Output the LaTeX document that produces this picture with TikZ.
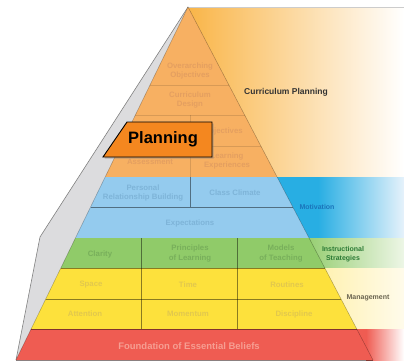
\documentclass[tikz,border=0pt]{standalone}
\usepackage{fontspec}
\setmainfont{Liberation Sans}
\usetikzlibrary{calc,shadows}

\definecolor{orangecell}{HTML}{F7B062}
\definecolor{orangetext}{HTML}{E49F60}
\definecolor{bluecell}{HTML}{94CBEE}
\definecolor{bluetext}{HTML}{7EB4D8}
\definecolor{greencell}{HTML}{90CB69}
\definecolor{greentext}{HTML}{78AF5B}
\definecolor{yellowcell}{HTML}{FDE13C}
\definecolor{yellowtext}{HTML}{E2C84D}
\definecolor{redcell}{HTML}{EF5C52}
\definecolor{redtext}{HTML}{F69E92}
\definecolor{sideface}{HTML}{DCDCDE}
\definecolor{planorange}{HTML}{F4871F}
\definecolor{bandorange}{HTML}{F9B548}
\definecolor{bandblue}{HTML}{28AEE3}
\definecolor{bandbluepale}{HTML}{E6F2FB}
\definecolor{bandgreenpale}{HTML}{EDF6E6}
\definecolor{bandyellow}{HTML}{FFF1B0}
\definecolor{bandyellowpale}{HTML}{FFFBEB}
\definecolor{motivtext}{HTML}{1B74BA}
\definecolor{instrtext}{HTML}{2B7A35}
\definecolor{managetext}{HTML}{6A6450}

\begin{document}
\begin{tikzpicture}[x=1pt,y=-1pt,
    cell/.style={font=\fontsize{7.8}{9.5}\selectfont\bfseries, align=center, inner sep=0pt},
    bandlabel/.style={font=\fontsize{7}{8.5}\selectfont\bfseries, align=center, inner sep=0pt},
    gridline/.style={draw=black, draw opacity=0.45, line width=0.6pt},
    oline/.style={draw=black, draw opacity=0.12, line width=0.6pt},
    planbox/.style={fill=planorange, draw=black, line width=0.9pt,
      drop shadow={shadow xshift=1.5pt, shadow yshift=-1.5pt, opacity=0.45}}]
  \useasboundingbox (0,0) rectangle (404,362);
  \coordinate (A) at (188,7);
  \coordinate (BL) at (16,360);
  \coordinate (BR) at (373,360);
  \coordinate (K) at (40,237);
  \foreach \y in {85,115,146,177,207,238,268,299,329,360} {
    \coordinate (L\y) at ($(A)!{(\y-7)/353}!(BL)$);
    \coordinate (R\y) at ($(A)!{(\y-7)/353}!(BR)$);
  }

  % bands behind the pyramid
  \shade[left color=bandorange, right color=white] (188,7) rectangle (404,177);
  \fill[bandblue] (270,177) rectangle (318,238);
  \shade[left color=bandblue, right color=bandbluepale] (318,177) rectangle (404,238);
  \shade[left color=greencell, right color=bandgreenpale] (300,238) rectangle (404,268);
  \shade[left color=bandyellow, right color=bandyellowpale] (320,268) rectangle (404,329);
  \fill[redcell] (355,329) rectangle (366,360);
  \shade[left color=redcell, right color=white] (366,329) rectangle (404,360);
  \draw[black!20, line width=0.6pt] (A) -- (404,7);

  % side face
  \fill[sideface] (A) -- (K) -- (BL) -- cycle;
  \draw[black!50, line width=0.6pt] (A) -- (K) -- (BL);

  % pyramid rows
  \fill[orangecell] (A) -- (R177) -- (L177) -- cycle;
  \fill[bluecell] (L177) -- (R177) -- (R238) -- (L238) -- cycle;
  \fill[greencell] (L238) -- (R238) -- (R268) -- (L268) -- cycle;
  \fill[yellowcell] (L268) -- (R268) -- (R329) -- (L329) -- cycle;
  \fill[redcell] (L329) -- (R329) -- (R360) -- (L360) -- cycle;

  % grid lines
  \foreach \y in {85,115,146} \draw[oline] (L\y) -- (R\y);
  \draw[oline] (190,115) -- (190,177);
  \foreach \y in {207,268,299,329,360} \draw[gridline] (L\y) -- (R\y);
  \draw[gridline] (190,177) -- (190,207);
  \draw[gridline] (141,238) -- (141,329);
  \draw[gridline] (237,238) -- (237,329);
  \draw[black, draw opacity=0.3, line width=0.5pt] (BL) -- (A) -- (BR);

  % cell texts
  \node[cell, orangetext] (overarch) at (190,71) {Overarching\\Objectives};
  \node[cell, orangetext] (currdesign) at (190,100) {Curriculum\\Design};
  \node[cell, orangetext] (objectives) at (223,131) {Objectives};
  \node[cell, orangetext] (assess) at (150,162) {Assessment};
  \node[cell, orangetext] (learnexp) at (227,161) {Learning\\Experiences};
  \node[cell, bluetext] (relation) at (143,193) {Personal\\Relationship Building};
  \node[cell, bluetext] (climate) at (235,193) {Class Climate};
  \node[cell, bluetext] (expect) at (190,223) {Expectations};
  \node[cell, greentext] (clarity) at (100,254) {Clarity};
  \node[cell, greentext] (principles) at (190,253.5) {Principles\\of Learning};
  \node[cell, greentext] (models) at (281,253.5) {Models\\of Teaching};
  \node[cell, yellowtext] (space) at (91,285) {Space};
  \node[cell, yellowtext] (time) at (188,285) {Time};
  \node[cell, yellowtext] (routines) at (287,285) {Routines};
  \node[cell, yellowtext] (attention) at (85,314) {Attention};
  \node[cell, yellowtext] (momentum) at (188,314) {Momentum};
  \node[cell, yellowtext] (discipline) at (294,314) {Discipline};
  \node[cell, redtext, font=\fontsize{9.5}{11}\selectfont\bfseries] (beliefs) at (189,346) {Foundation of Essential Beliefs};

  % band labels
  \node[bandlabel, black!80, font=\fontsize{8.5}{10}\selectfont\bfseries] (currplan) at (286,92) {Curriculum Planning};
  \node[bandlabel, motivtext] (motiv) at (317,207) {Motivation};
  \node[bandlabel, instrtext] (instr) at (343,254) {Instructional\\Strategies};
  \node[bandlabel, managetext] (manage) at (368,298) {Management};

  % planning tag
  \filldraw[planbox] (127,122) -- (212,122) -- (212,157) -- (103,157) -- cycle;
  \node[inner sep=0pt, font=\fontsize{16.5}{18}\selectfont\bfseries] (planning) at (163,139) {Planning};
\end{tikzpicture}
\end{document}
